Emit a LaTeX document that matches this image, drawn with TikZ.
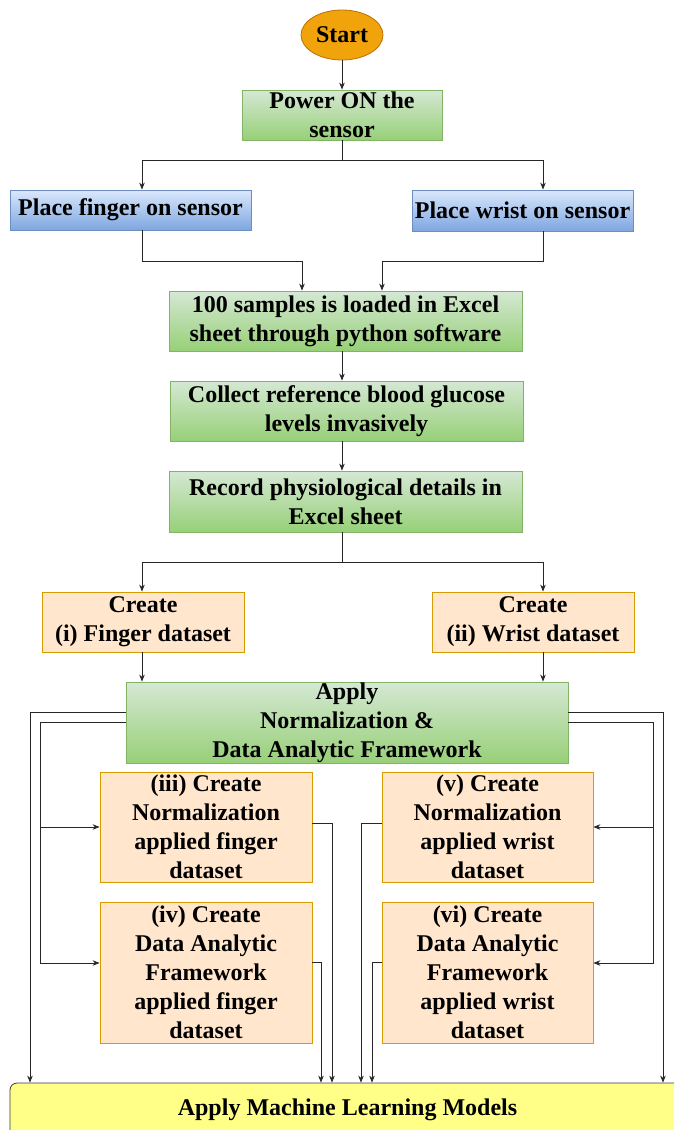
\documentclass[tikz,border=0pt]{standalone}
\usepackage{fontspec}
\setmainfont{Liberation Serif}
\usetikzlibrary{shapes.geometric}
\usetikzlibrary{arrows.meta}

\definecolor{greentop}{HTML}{D5E8D4}
\definecolor{greenbot}{HTML}{97D077}
\definecolor{greenline}{HTML}{82B366}
\definecolor{bluetop}{HTML}{DAE8FC}
\definecolor{bluebot}{HTML}{7EA6E0}
\definecolor{blueline}{HTML}{6C8EBF}
\definecolor{peach}{HTML}{FFE6CC}
\definecolor{peachline}{HTML}{D79B00}
\definecolor{startfill}{HTML}{F0A30A}
\definecolor{startline}{HTML}{BD7000}
\definecolor{mlfill}{HTML}{FFFF88}
\definecolor{mlline}{HTML}{36393D}

\tikzset{
    txt/.style={font=\bfseries\fontsize{24}{29}\selectfont, align=center, inner sep=0pt},
    greenbox/.style={txt, rectangle, draw=greenline, top color=greentop, bottom color=greenbot},
    bluebox/.style={txt, rectangle, draw=blueline, top color=bluetop, bottom color=bluebot},
    peachbox/.style={txt, rectangle, draw=peachline, fill=peach},
    ln/.style={draw=black!85, line width=0.8pt},
    arr/.style={ln, -{Stealth[length=7pt,width=5.5pt]}}
}

\begin{document}
\begin{tikzpicture}[x=1pt, y=-1pt, line width=0.8pt]

        \useasboundingbox (0,0) rectangle (673,1130);

        % top part
        \node[txt, ellipse, draw=startline, fill=startfill,
            minimum width=82, minimum height=50] (start) at (342,35) {Start};
        \node[greenbox, minimum width=200, minimum height=50] (power) at (342,115) {Power ON the\\sensor};
        \node[bluebox, minimum width=241, minimum height=40] (finger) at (130.5,210) {Place finger on sensor};
        \node[bluebox, minimum width=221, minimum height=41] (wrist) at (522.5,210.5) {Place wrist on sensor};

        \node[greenbox, minimum width=353, minimum height=60] (samples) at (345.5,321) {100 samples is loaded in Excel\\sheet through python software};
        \node[greenbox, minimum width=353, minimum height=60] (collect) at (346.5,411) {Collect reference blood glucose\\levels invasively};
        \node[greenbox, minimum width=353, minimum height=61] (record) at (345.5,501.5) {Record physiological details in\\Excel sheet};

        % datasets
        \node[peachbox, minimum width=202, minimum height=60] (fingerset) at (143,622) {Create\\(i) Finger dataset};
        \node[peachbox, minimum width=202, minimum height=60] (wristset) at (533,622) {Create\\(ii) Wrist dataset};
        \node[greenbox, minimum width=442, minimum height=81] (apply) at (347,722.5) {Apply\\Normalization \&\\Data Analytic Framework};

        \node[peachbox, minimum width=212, minimum height=110] (normf) at (206,827) {(iii) Create\\Normalization\\applied finger\\dataset};
        \node[peachbox, minimum width=212, minimum height=141] (daf) at (206,972.5) {(iv) Create\\Data Analytic\\Framework\\applied finger\\dataset};
        \node[peachbox, minimum width=211, minimum height=110] (normw) at (487.5,827) {(v) Create\\Normalization\\applied wrist\\dataset};
        \node[peachbox, minimum width=211, minimum height=141] (daw) at (487.5,972.5) {(vi) Create\\Data Analytic\\Framework\\applied wrist\\dataset};

        \node[txt, rectangle, rounded corners=7pt, draw=mlline, fill=mlfill,
            minimum width=675, minimum height=54] (ml) at (347.5,1110) {Apply Machine Learning Models};

        % columns used by the connectors
        \coordinate (spine) at (342,0);
        \coordinate (colL) at (142,0);
        \coordinate (colR) at (543,0);
        \coordinate (split1) at (342,160);
        \coordinate (joinL) at (302,261);
        \coordinate (joinR) at (382,261);
        \coordinate (split2) at (342,562);
        \coordinate (railLo) at (30,0);
        \coordinate (branchL) at (40,963);
        \coordinate (railRo) at (663,0);
        \coordinate (branchR) at (653,963);
        \coordinate (dropA) at (332,0);
        \coordinate (dropB) at (321,0);
        \coordinate (dropC) at (361,0);
        \coordinate (dropD) at (372,0);

        \draw[arr] (start) -- (power);
        \draw[ln] (power.south -| spine) -- (split1);
        \draw[arr] (split1) -| (finger.north -| colL);
        \draw[arr] (split1) -| (wrist.north -| colR);
        \draw[arr] (finger.south -| colL) |- (joinL) -- (samples.north -| joinL);
        \draw[arr] (wrist.south -| colR) |- (joinR) -- (samples.north -| joinR);

        \draw[arr] (samples.south -| spine) -- (collect.north -| spine);
        \draw[arr] (collect.south -| spine) -- (record.north -| spine);
        \draw[ln] (record.south -| spine) -- (split2);
        \draw[arr] (split2) -| (fingerset.north -| colL);
        \draw[arr] (split2) -| (wristset.north -| colR);
        \draw[arr] (fingerset.south -| colL) -- (apply.north -| colL);
        \draw[arr] (wristset.south -| colR) -- (apply.north -| colR);

        % rails round the apply box
        \draw[arr] ([yshift=10.5]apply.west) -| (ml.north -| railLo);
        \draw[arr] (apply.west) -| (branchL) -- (daf.west |- branchL);
        \draw[arr] (normf.west -| branchL) -- (normf.west);
        \draw[arr] ([yshift=10.5]apply.east) -| (ml.north -| railRo);
        \draw[arr] (apply.east) -| (branchR) -- (daw.east |- branchR);
        \draw[arr] (normw.east -| branchR) -- (normw.east);

        % outputs into the models box
        \draw[arr] ([yshift=4]normf.east) -| (ml.north -| dropA);
        \draw[arr] ([yshift=10]daf.east) -| (ml.north -| dropB);
        \draw[arr] ([yshift=4]normw.west) -| (ml.north -| dropC);
        \draw[arr] ([yshift=10]daw.west) -| (ml.north -| dropD);

\end{tikzpicture}
\end{document}
